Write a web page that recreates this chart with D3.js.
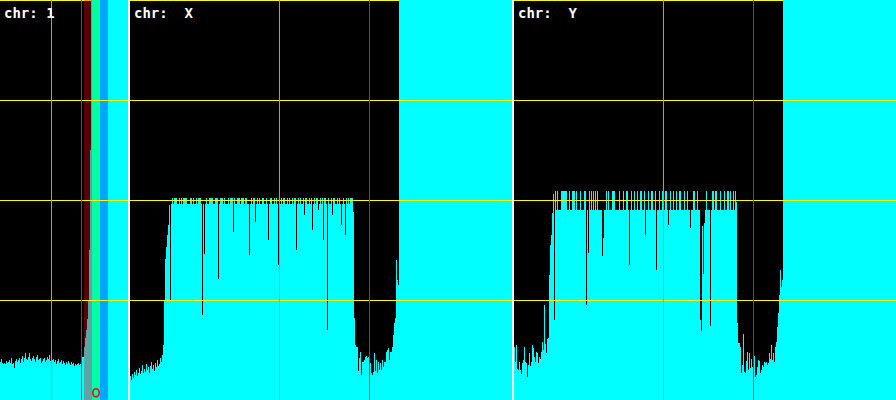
<!DOCTYPE html>
<html><head><meta charset="utf-8">
<script src="https://cdn.jsdelivr.net/npm/d3@7"></script>
<style>html,body{margin:0;padding:0;background:#fff}svg{display:block}</style>
</head><body>
<svg id="chart" width="896" height="400"></svg>
<script>
// ---------------- DATA (coverage in % units; 1 bin per pixel column) ----------------
const panelNames = ["1", "X", "Y"];
const panelBins = [128, 382, 382];
const yTicks = [100, 200, 300];
const yFrame = [0, 400];
const OFF = 999; // coverage beyond the top of the plot

const chr1Cov = [38,41,37,36,37,36,39,37,38,40, 37,42,36,37,32,39,41,38,40,42,
  37,41,44,38,42,47,41,40,43,47, 41,39,42,44,41,38,43,45,40,41,
  42,37,39,41,42,38,40,43,41,45, 39,42,40,41,38,40,36,39,41,37,
  38,40,36,39,37,35,38,36,39,37, 35,38,36,37,34,36,35,36,37,35,
  36,36, 43,43,53,62,70,81,100,150,250];
const chr1SatRun = 37;

const chrXLeft = [24,20,26,22,28,25,30,24,27,32, 26,29,35,27,31,28,36,30,33,27,
  34,38,31,35,29,37,33,40,34,36, 42,38,45,55,100,141,153,165,175,195, 100];
const chrXPlateauLen = 183, chrXBase = 196, chrXPeak = 202;
const chrXPeaks = [42,44,45,46,49,51,53,54,55,56,60,61,63,66,68,69,70,76,79,80,81,82,85,86,87,
  90,91,92,94,98,100,101,102,103,104,107,108,109,111,112,113,115,116,119,121,123,124,127,129,
  132,133,136,138,140,141,144,146,148,151,153,154,157,159,162,164,165,168,170,173,175,176,179,
  181,182,184,186,187,190,192,194,195,198,201,203,204,207,209,211,213,215,216,218,220,221,222];
const chrXDips = [[72,85],[74,146],[88,121],[103,168],[119,145],[125,178],[138,160],[148,135],
  [166,150],[174,185],[182,170],[188,190],[193,160],[197,70],[202,185],[211,175],[215,165],[223,188]];
const chrXRight = [82,55,53,53,29,42,48,25,38,38, 40,43,44,42,43,40,37,27,25,28,
  47,29,40,27,38,30,37,30,40,33, 38,38,48,50,52,40,48,48,53,65, 77,82,140,120,115];
const chrXSatRun = 113;

const chrYLeft = [53,38,55,31,30,38,30,26,37,40, 53,38,37,23,35,47,34,38,55,52,
  43,38,48,47,37,43,41,48,58,50, 95,56,47,61,62,125,155,165,187,206, 80];
const chrYPlateauLen = 182, chrYBase = 190, chrYPeak = 209;
const chrYPeaks = [41,43,47,48,49,50,51,52,55,58,59,60,62,66,70,71,75,77,79,81,83,92,94,98,99,100,
  105,109,112,113,117,120,123,126,127,130,134,137,138,141,145,148,151,152,156,159,162,165,166,
  170,173,176,179,180,183,192,198,199,201,202,206,210,213,214,216,219,221];
const chrYDips = [[72,95],[74,147],[88,144],[89,162],[115,135],[131,165],[142,130],[154,175],
  [176,172],[186,80],[187,69],[188,174],[189,126],[190,177],[196,74],[222,198]];
const chrYRight = [77,57,57,53,27,35,66,28,27,39, 48,30,47,32,41,33,40,44,23,25,
  33,40,39,27,30,35,33,38,37,38, 35,37,47,41,55,40,47,38,53,58, 73,87,105,130,113,120];
const chrYSatRun = 113;

// marker lines (bin positions) per panel
const greenMarks = [51, 149, 149];
const redMarks = [81, 239, 239];
// highlighted regions on chr 1 (bins)
const chr1Bands = [{from: 84, to: 92, color: "#ff0000"}, {from: 92, to: 100, color: "#00ff00"}, {from: 100, to: 108, color: "#0000ff"}];
const chr1Point = 96;

// ---------------- BUILD ----------------
function buildPlateau(left, len, base, peak, peaks, dips, right, satRun) {
  const arr = left.slice();
  const start = arr.length;
  for (let i = 0; i < len; i++) arr.push(base);
  peaks.forEach(b => { if (b >= start && b < start + len) arr[b] = peak; });
  dips.forEach(([b, v]) => { arr[b] = v; });
  return arr.concat(right, Array(satRun).fill(OFF));
}
const coverage = [
  chr1Cov.concat(Array(chr1SatRun).fill(OFF)),
  buildPlateau(chrXLeft, chrXPlateauLen, chrXBase, chrXPeak, chrXPeaks, chrXDips, chrXRight, chrXSatRun),
  buildPlateau(chrYLeft, chrYPlateauLen, chrYBase, chrYPeak, chrYPeaks, chrYDips, chrYRight, chrYSatRun)
];

const W = 896, H = 400, GAP = 2;
const svg = d3.select("#chart");
const y = d3.scaleLinear().domain([0, 400]).range([H, 0]).clamp(true);
const rowY = v => Math.min(H - 0.5, Math.max(0.5, Math.floor(y(v)) + 0.5));

let x0 = 0;
panelNames.forEach((name, p) => {
  const n = panelBins[p];
  const x = d3.scaleLinear().domain([0, n]).range([x0, x0 + n]);
  const g = svg.append("g").attr("shape-rendering", "crispEdges");
  g.append("rect").attr("x", x(0)).attr("y", 0).attr("width", x(n) - x(0)).attr("height", H).attr("fill", "#000");

  // frame lines (behind bands)
  g.selectAll("line.frame").data(yFrame).join("line").attr("class", "frame")
    .attr("x1", x(0)).attr("x2", x(n)).attr("y1", d => rowY(d)).attr("y2", d => rowY(d))
    .attr("stroke", "#ffff00").attr("stroke-width", 1);

  // coverage bars
  g.selectAll("rect.bar").data(coverage[p]).join("rect").attr("class", "bar")
    .attr("x", (d, i) => x(i)).attr("width", (d, i) => x(i + 1) - x(i))
    .attr("y", d => y(d)).attr("height", d => H - y(d))
    .attr("fill", "#00ffff");

  if (p === 0) {
    g.selectAll("rect.band").data(chr1Bands).join("rect").attr("class", "band")
      .attr("x", d => x(d.from)).attr("width", d => x(d.to) - x(d.from))
      .attr("y", 0).attr("height", H).attr("fill", d => d.color).attr("fill-opacity", 0.35);
  }

  // grid lines
  g.selectAll("line.grid").data(yTicks).join("line").attr("class", "grid")
    .attr("x1", x(0)).attr("x2", x(n)).attr("y1", d => rowY(d)).attr("y2", d => rowY(d))
    .attr("stroke", "#ffff00").attr("stroke-width", 1);

  // marker lines
  [[greenMarks[p], "#2ee82e"], [redMarks[p], "#ee1414"]].forEach(([b, c]) => {
    g.append("line").attr("x1", x(b) + 0.5).attr("x2", x(b) + 0.5).attr("y1", 0).attr("y2", H)
      .attr("stroke", c).attr("stroke-width", 1);
  });

  if (p === 0) {
    svg.append("ellipse").attr("cx", x(chr1Point)).attr("cy", 392.8).attr("rx", 3.2).attr("ry", 4)
      .attr("fill", "none").attr("stroke", "#ff0000").attr("stroke-width", 1.6);
  }

  svg.append("text").attr("x", x(0) + 4).attr("y", 18)
    .attr("fill", "#fff").attr("font-family", "'DejaVu Sans Mono', monospace")
    .attr("font-size", 14).attr("font-weight", "bold").style("white-space", "pre")
    .text(p === 0 ? "chr: " + name : "chr:  " + name);

  x0 += n + GAP;
});
</script>
</body></html>
